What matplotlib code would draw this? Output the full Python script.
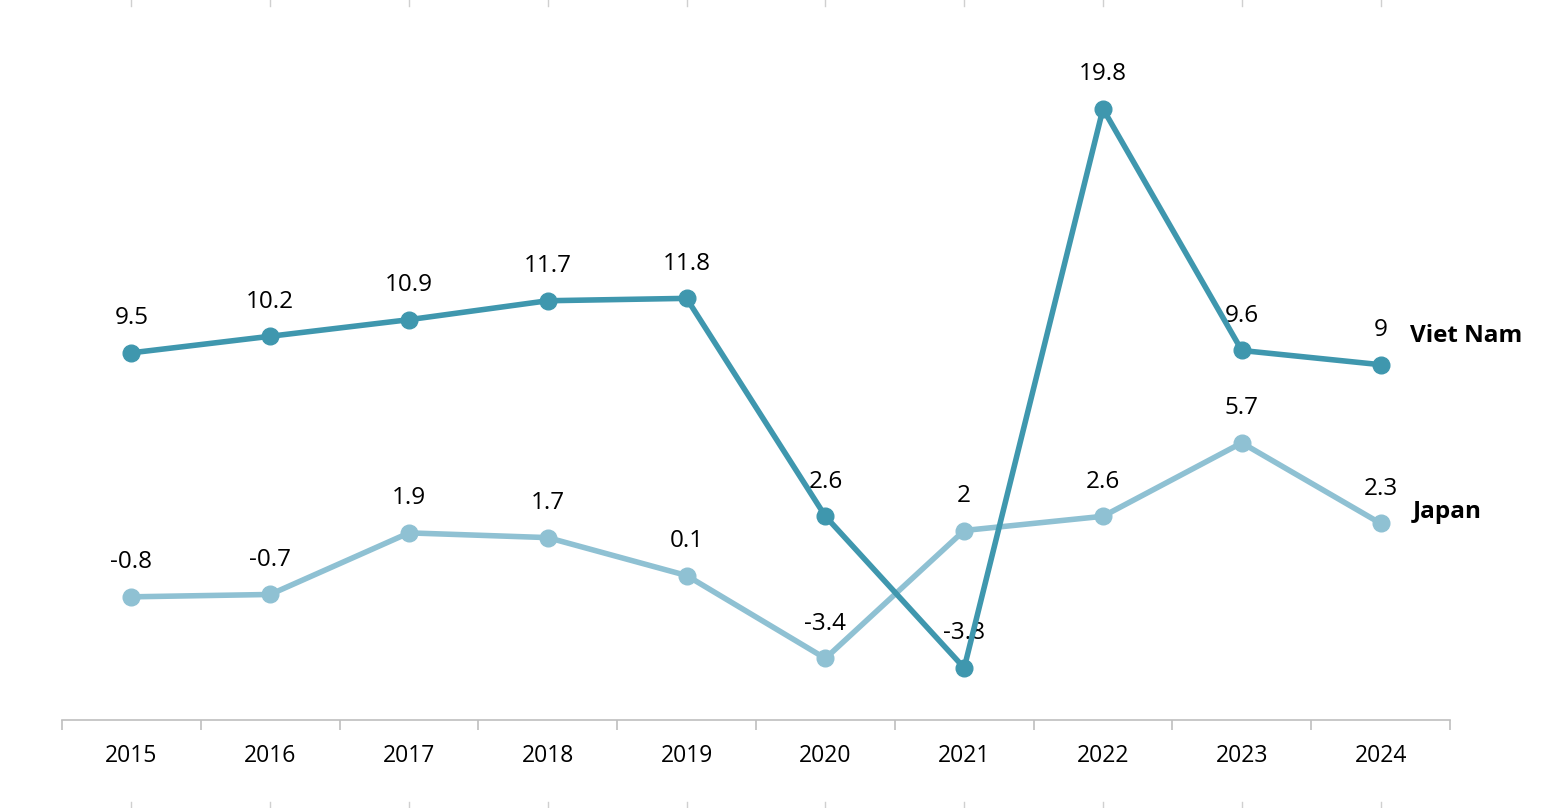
import numpy as np
import matplotlib.pyplot as plt
from matplotlib import transforms

plt.rcParams['font.family'] = ['Open Sans', 'DejaVu Sans']

# Dados
anos = ['2015', '2016', '2017', '2018', '2019', '2020', '2021', '2022', '2023', '2024']
viet_nam = [9.5, 10.2, 10.9, 11.7, 11.8, 2.6, -3.8, 19.8, 9.6, 9.0]
japan = [-0.8, -0.7, 1.9, 1.7, 0.1, -3.4, 2.0, 2.6, 5.7, 2.3]
rotulos_vn = ['9.5', '10.2', '10.9', '11.7', '11.8', '2.6', '-3.8', '19.8', '9.6', '9']
rotulos_jp = ['-0.8', '-0.7', '1.9', '1.7', '0.1', '-3.4', '2', '2.6', '5.7', '2.3']

cor_vn = '#3f97ae'
cor_jp = '#8fc1d3'

fig = plt.figure(figsize=(15.49, 8.08), dpi=100)
ax = fig.add_axes([0.040, 0.1089, 0.8961, 0.8795])
x = np.arange(len(anos))

# pedacinhos de grade vertical nas bordas da imagem
trans = transforms.blended_transform_factory(ax.transData, fig.transFigure)
for xi in x:
    ax.plot([xi, xi], [0.9926, 1.0], transform=trans, color='#d0d0d0', lw=1, clip_on=False)
    ax.plot([xi, xi], [0.0, 0.0074], transform=trans, color='#d0d0d0', lw=1, clip_on=False)

ax.plot(x, japan, color=cor_jp, lw=4, marker='o', ms=12, zorder=3)
ax.plot(x, viet_nam, color=cor_vn, lw=4, marker='o', ms=12, zorder=4)

for xi, v, r in zip(x, viet_nam, rotulos_vn):
    ax.annotate(r, (xi, v), xytext=(0, 25), textcoords='offset points',
                ha='center', va='center', fontsize=17.5, color='black')
for xi, v, r in zip(x, japan, rotulos_jp):
    ax.annotate(r, (xi, v), xytext=(0, 25), textcoords='offset points',
                ha='center', va='center', fontsize=17.5, color='black')

ax.annotate('Viet Nam', (x[-1], viet_nam[-1]), xytext=(21, 21), textcoords='offset points',
            ha='left', va='center', fontsize=17.5, fontweight='bold')
ax.annotate('Japan', (x[-1], japan[-1]), xytext=(23, 8), textcoords='offset points',
            ha='left', va='center', fontsize=17.5, fontweight='bold')

ax.set_xlim(-0.5, len(anos) - 0.5)
ax.set_ylim(-6, 24)
ax.set_xticks(x)
ax.set_xticklabels(anos, fontsize=16.5)
ax.set_xticks(np.arange(-0.5, len(anos)), minor=True)
ax.tick_params(axis='x', which='major', length=0, pad=17)
ax.tick_params(axis='x', which='minor', length=7, width=1.2, color='#bfbfbf', direction='out')
ax.set_yticks([])
for lado in ['top', 'left', 'right']:
    ax.spines[lado].set_visible(False)
ax.spines['bottom'].set_color('#bfbfbf')
ax.spines['bottom'].set_linewidth(1.2)
ax.patch.set_alpha(0)

fig.savefig('out.png', dpi=100)
